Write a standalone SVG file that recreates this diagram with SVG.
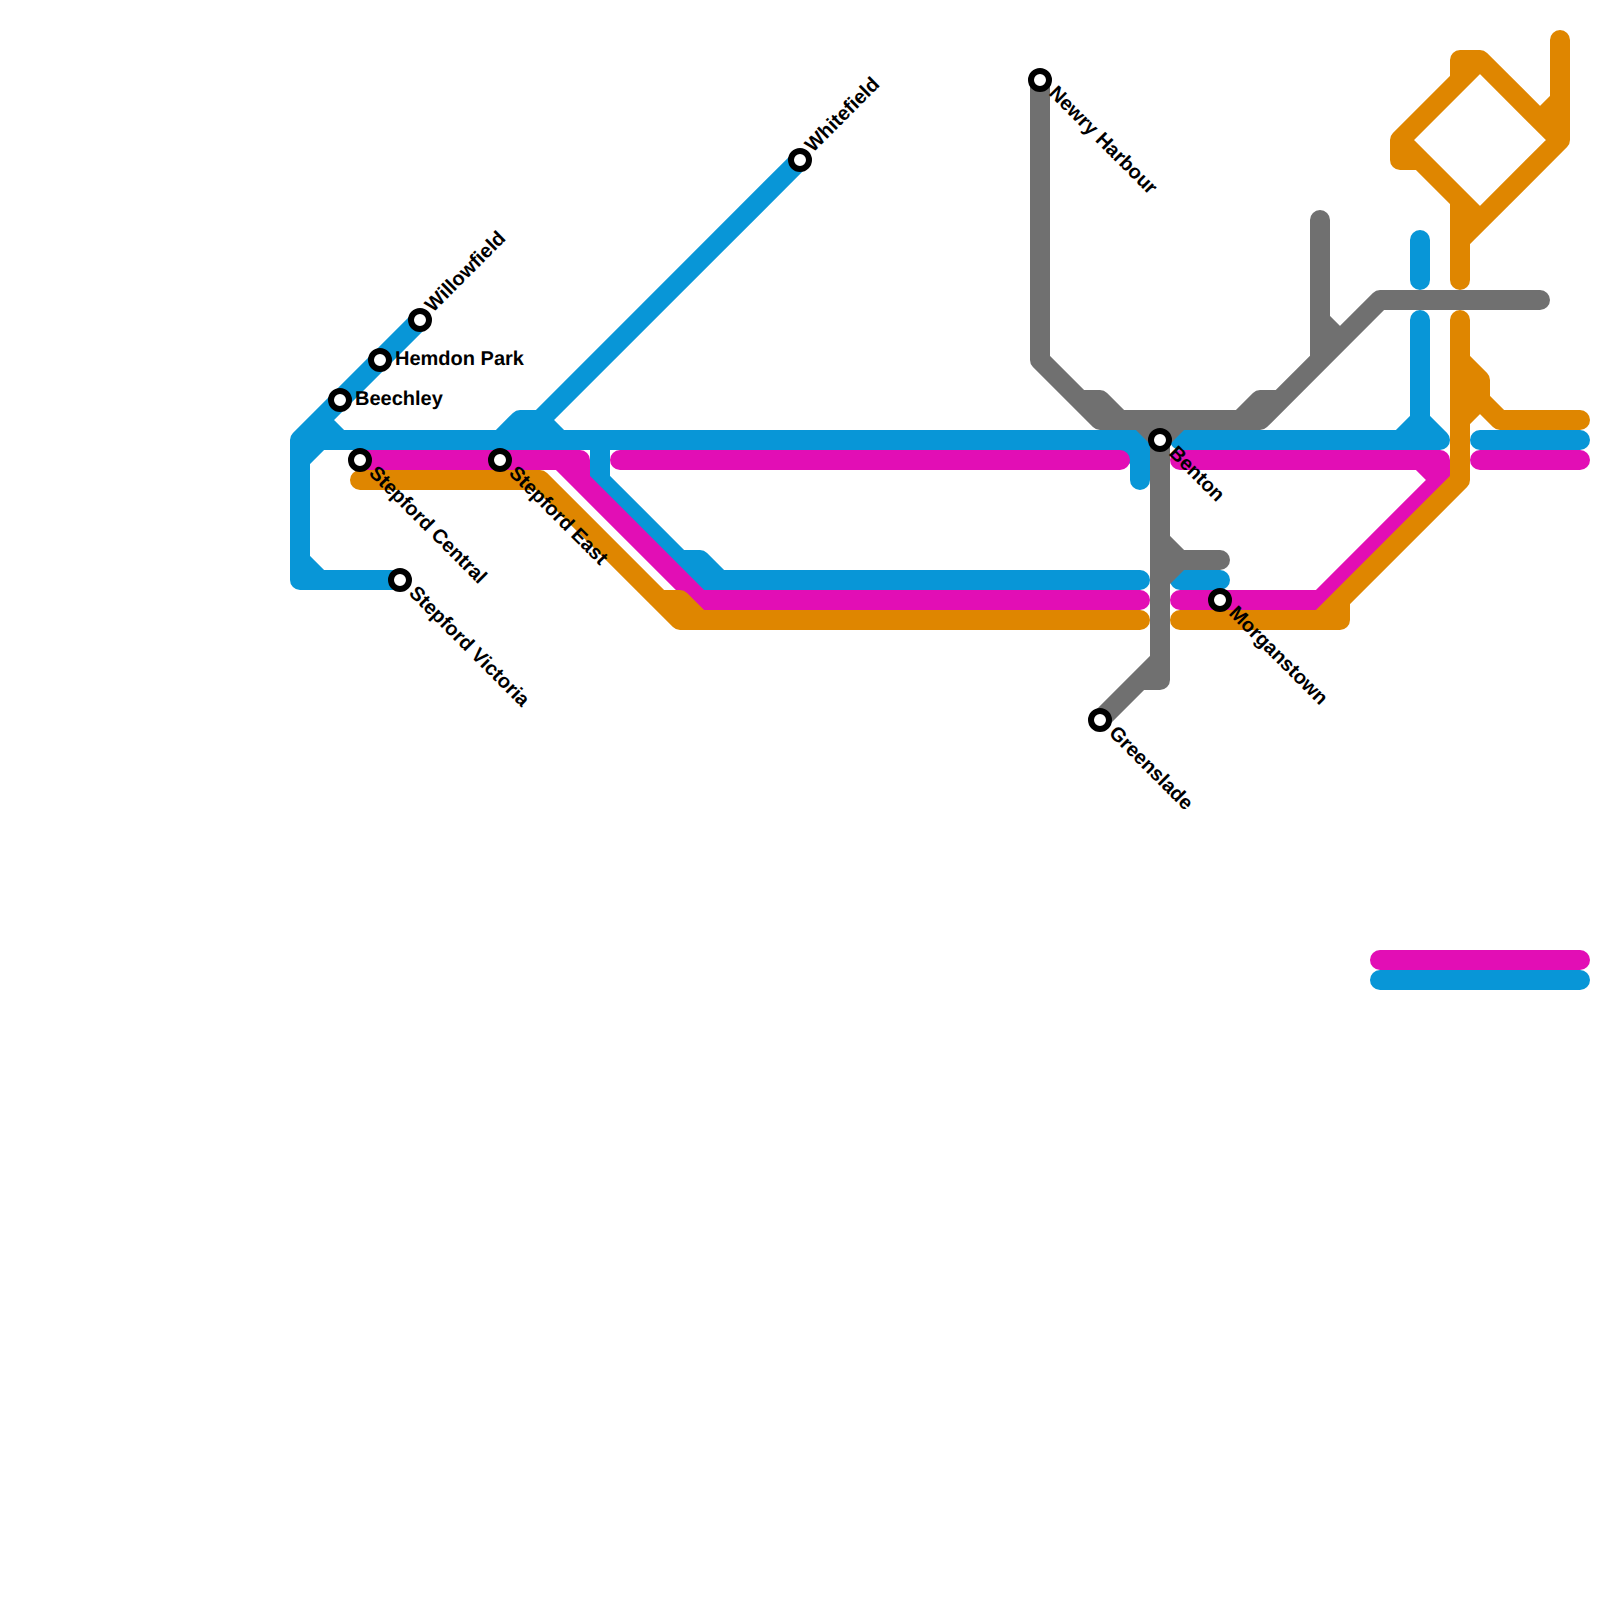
<svg xmlns="http://www.w3.org/2000/svg" width="1600" height="1600" viewBox="0 0 1600 1600">
<style>
.l{fill:none;stroke-width:20;stroke-linecap:round;stroke-linejoin:round}
.b{stroke:#0896d7}.m{stroke:#e20eb5}.o{stroke:#df8600}.g{stroke:#707070}
.s{fill:#fff;stroke:#000;stroke-width:6}
.t{font-family:"Liberation Sans",Arial,sans-serif;font-size:20px;font-weight:bold;fill:#000;text-rendering:geometricPrecision}
</style>
<rect width="1600" height="1600" fill="#fff"/>
<g id="connectors">
<path class="l b" d="M420 320L300 440V580H400M300 460L320 440M300 560L320 580M320 420L340 440M300 440H1140V480M1120 440L1140 460M500 440L520 420H540L560 440M800 160L540 420M600 440V480L680 560H700L720 580H1140M680 560L700 580H720M1180 580H1220M1180 440H1440M1400 440L1420 420L1440 440M1420 320V440M1420 240V280M1480 440H1580M1380 980H1580"/>
<path class="l m" d="M360 460H580V480L700 600H1140M560 460L580 480M620 460H1120M1180 460H1440V480L1320 600H1180M1420 460L1440 480M1480 460H1580M1380 960H1580"/>
<path class="l o" d="M360 480H540L680 620H1140M660 600H680L700 620M1180 620H1320L1460 480V320M1340 620V600M1320 620H1340M1460 360L1480 380V400L1500 420H1580M1460 420L1480 400M1460 280V240L1560 140V40M1540 120L1560 100M1560 140L1480 60H1460V80L1400 140V160H1420M1480 60L1400 140L1480 220M1460 240V200"/>
<path class="l g" d="M1040 80V360L1100 420H1260L1380 300H1540M1080 400H1100L1120 420M1240 420L1260 400H1280M1140 420L1160 440L1180 420M1160 440V680H1140L1100 720L1160 660M1160 540L1180 560H1220M1160 580L1180 560M1320 220V360M1320 320L1340 340"/>
</g>
<g id="stepford-central"><circle class="s" cx="360" cy="460" r="9"/><text class="t" transform="translate(368 474) rotate(45)">Stepford Central</text></g>
<g id="stepford-east"><circle class="s" cx="500" cy="460" r="9"/><text class="t" transform="translate(508 474) rotate(45)">Stepford East</text></g>
<g id="stepford-victoria"><circle class="s" cx="400" cy="580" r="9"/><text class="t" transform="translate(408 594) rotate(45)">Stepford Victoria</text></g>
<g id="beechley"><circle class="s" cx="340" cy="400" r="9"/><text class="t" x="355" y="405">Beechley</text></g>
<g id="hemdon-park"><circle class="s" cx="380" cy="360" r="9"/><text class="t" x="395" y="365">Hemdon Park</text></g>
<g id="willowfield"><circle class="s" cx="420" cy="320" r="9"/><text class="t" transform="translate(433 313) rotate(-45)">Willowfield</text></g>
<g id="whitefield"><circle class="s" cx="800" cy="160" r="9"/><text class="t" transform="translate(813 153) rotate(-45)">Whitefield</text></g>
<g id="newry-harbour"><circle class="s" cx="1040" cy="80" r="9"/><text class="t" transform="translate(1048 94) rotate(45)">Newry Harbour</text></g>
<g id="benton"><circle class="s" cx="1160" cy="440" r="9"/><text class="t" transform="translate(1168 454) rotate(45)">Benton</text></g>
<g id="morganstown"><circle class="s" cx="1220" cy="600" r="9"/><text class="t" transform="translate(1228 614) rotate(45)">Morganstown</text></g>
<g id="greenslade"><circle class="s" cx="1100" cy="720" r="9"/><text class="t" transform="translate(1108 734) rotate(45)">Greenslade</text></g>
</svg>
